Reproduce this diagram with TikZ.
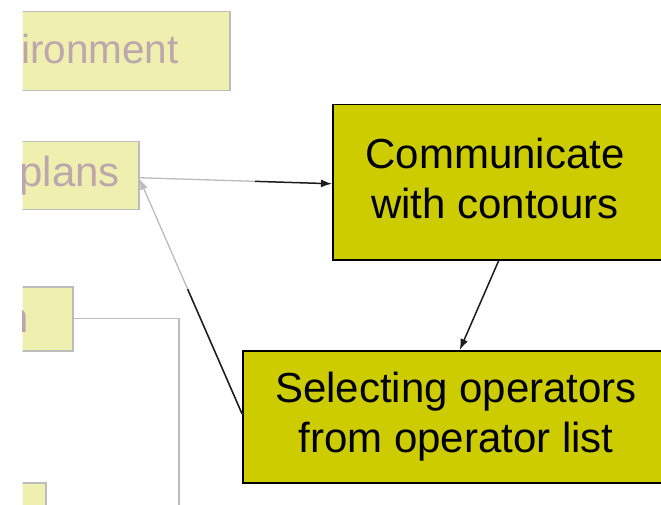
\documentclass[tikz,border=0pt]{standalone}
\usepackage{fontspec}
\setmainfont{Liberation Sans}
\usetikzlibrary{arrows.meta,calc}

\definecolor{paleyellow}{RGB}{239,239,176}
\definecolor{boxolive}{RGB}{204,204,0}
\definecolor{fadeline}{RGB}{188,188,188}
\definecolor{fadetext}{RGB}{188,168,172}
\definecolor{darkline}{RGB}{28,28,28}

\begin{document}
\begin{tikzpicture}[x=1pt,y=-1pt,
  fadedbox/.style={draw=fadeline, line width=1.5pt, fill=paleyellow,
    rectangle, inner sep=0pt, anchor=north west},
  strongbox/.style={draw=black, line width=1.5pt, fill=boxolive,
    rectangle, inner sep=0pt, anchor=north west},
  fadedlabel/.style={text=fadetext, font=\fontsize{42}{50}\selectfont,
    inner sep=0pt, anchor=base east},
  boxlabel/.style={text=black, font=\fontsize{42}{50}\selectfont,
    align=center, inner sep=0pt},
  fadeconn/.style={draw=fadeline, line width=1.3pt},
  darkconn/.style={draw=darkline, line width=1.5pt},
  tip/.style={-{Latex[length=11pt,width=8pt]}}
]
\useasboundingbox (0,0) rectangle (661,505);
\clip (22.5,0) rectangle (661,505);

% faded boxes on the left
\node[fadedbox, minimum width=269pt, minimum height=79pt] (env) at (-40,11) {};
\node[fadedbox, minimum width=178pt, minimum height=68pt] (plans) at (-40,141) {};
\node[fadedbox, minimum width=112pt, minimum height=64pt] (third) at (-40,286) {};
\node[fadedbox, minimum width=85pt, minimum height=58pt] (fourth) at (-40,482) {};

\node[fadedlabel, font=\fontsize{40.5}{48}\selectfont] (envtxt) at (179,64) {ironment};
\node[fadedlabel] (planstxt) at (120,187) {plans};
\node[fadedlabel] (thirdtxt) at (29,332) {n};

% highlighted boxes
\node[strongbox, minimum width=332pt, minimum height=155pt] (comm) at (332,104) {};
\node[strongbox, minimum width=434pt, minimum height=132pt] (sel) at (242,350) {};

\node[boxlabel] (commtxt) at (495,178) {Communicate\\with contours};
\node[boxlabel] (seltxt) at (456,417) {Selecting operators\\from operator list};

% connectors
\coordinate (thirdend) at (179,520);
\draw[fadeconn] (third.east) -| (thirdend);

\draw[fadeconn] ([yshift=-2pt]plans.east) -- ($([yshift=-2pt]plans.east)!0.6!([yshift=-1.5pt]comm.west)$);
\draw[darkconn, tip] ($([yshift=-2pt]plans.east)!0.6!([yshift=-1.5pt]comm.west)$) -- ([yshift=-1.5pt]comm.west);

\draw[fadeconn, tip] ([yshift=3pt]sel.west) -- ([yshift=-3pt]plans.east);
\draw[darkconn] ([yshift=3pt]sel.west) -- ($([yshift=3pt]sel.west)!0.53!([yshift=-3pt]plans.east)$);

\draw[darkconn, tip] (comm.south) -- (sel.north);
\end{tikzpicture}
\end{document}
